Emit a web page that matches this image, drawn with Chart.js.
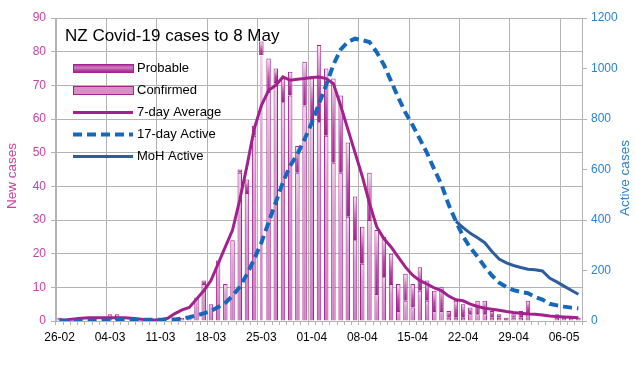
<!DOCTYPE html>
<html>
<head>
<meta charset="utf-8">
<title>NZ Covid-19 cases to 8 May</title>
<script src="https://cdn.jsdelivr.net/npm/chart.js@4.4.0/dist/chart.umd.min.js"></script>
<style>
  html, body { margin: 0; padding: 0; background: #fff; }
</style>
</head>
<body>
<canvas id="my-chart" width="635" height="392"></canvas>
<script>
const dates = [
  "26-02", "27-02", "28-02", "29-02",
  "01-03", "02-03", "03-03", "04-03", "05-03", "06-03", "07-03", "08-03", "09-03", "10-03",
  "11-03", "12-03", "13-03", "14-03", "15-03", "16-03", "17-03", "18-03", "19-03", "20-03",
  "21-03", "22-03", "23-03", "24-03", "25-03", "26-03", "27-03", "28-03", "29-03", "30-03", "31-03",
  "01-04", "02-04", "03-04", "04-04", "05-04", "06-04", "07-04", "08-04", "09-04", "10-04",
  "11-04", "12-04", "13-04", "14-04", "15-04", "16-04", "17-04", "18-04", "19-04", "20-04",
  "21-04", "22-04", "23-04", "24-04", "25-04", "26-04", "27-04", "28-04", "29-04", "30-04",
  "01-05", "02-05", "03-05", "04-05", "05-05", "06-05", "07-05", "08-05"
];
const tickDates = ["26-02", "04-03", "11-03", "18-03", "25-03", "01-04", "08-04", "15-04", "22-04", "29-04", "06-05"];

const confirmed = [
  1, 0, 0, 0, 0, 0, 0, 2, 2, 0,
  0, 0, 0, 0, 0, 0, 0, 1, 1, 7,
  11, 5, 18, 11, 24, 44, 38, 55, 79, 68,
  71, 65, 67, 44, 64, 59, 59, 55, 47, 44,
  31, 24, 17, 30, 8, 13, 11, 3, 6, 4,
  9, 6, 3, 3, 1, 1, 1, 2, 2, 2,
  1, 1, 0, 1, 1, 2, 0, 0, 0, 1,
  1, 1, 1
];
const probable = [
  0, 0, 0, 0, 0, 0, 0, 0, 0, 0,
  0, 0, 0, 0, 0, 0, 0, 0, 0, 0,
  1, 0, 0, 0, 0, 1, 4, 3, 4, 10,
  4, 7, 7, 8, 13, 13, 23, 20, 25, 23,
  22, 13, 11, 14, 19, 12, 9, 8, 8, 7,
  7, 6, 6, 7, 2, 5, 4, 2, 4, 4,
  2, 1, 1, 1, 2, 4, 0, 0, 0, 1,
  0, 0, 0
];
const sevenDayAvg = [
  0.3, 0.4, 0.6, 0.8, 1, 1, 1, 1, 1, 1,
  0.8, 0.6, 0.4, 0.3, 0.4, 0.8, 2.2, 3.3, 4, 6.5,
  9, 12, 17, 22, 27, 36, 46, 57, 64, 68.5,
  70, 72.5, 71.5, 71.8, 72, 72.3, 72.5, 72, 70.5, 64,
  57, 50, 43, 35, 28, 24.5, 22, 19, 16, 13.6,
  12, 11, 9.8, 9, 7.4, 6.3, 6, 5, 4.3, 3.8,
  3.5, 3.2, 2.8, 2.5, 2.3, 2.1, 2, 1.8, 1.5, 1.3,
  1.2, 1.1, 1
];
const active17 = [
  1, 1, 1, 1, 1, 1, 1, 3, 5, 5,
  5, 5, 5, 5, 5, 5, 6, 10, 15, 22,
  30, 40, 55, 72, 100, 135, 185, 245, 310, 390,
  470, 550, 615, 660, 720, 785, 860, 935, 1015, 1075,
  1105, 1118, 1112, 1105, 1065, 1015, 950, 885, 825, 775,
  720, 665, 600, 540, 460, 395, 335, 290, 255, 215,
  180, 152, 135, 122, 115, 110, 95, 85, 68, 62,
  57, 53, 50
];
const mohActive = Array(55).fill(null).concat([
  395, 370, 347, 330, 310, 275, 245, 230, 220, 212,
  205, 203, 198, 170, 155, 138, 122, 106
]);

const legendNames = ["Probable", "Confirmed", "7-day Average", "17-day Active", "MoH Active"];
const chartTitle = "NZ Covid-19 cases to 8 May";

const font = "'Liberation Sans', Arial, sans-serif";
const grid = "#b3b3b3";
const pink = "#c7439f";
const blue = "#2b82cf";
const barEdge = "#a3228d";
const avgColour = "#a3218e";
const dashColour = "#1569bd";
const mohColour = "#2d5e9b";

// vertical gradient over each bar segment, bottom -> top
function barFill(stops, base, own, solid) {
  return function (context) {
    const chart = context.chart;
    const y = chart.scales.y;
    if (context.type !== "data" || !chart.chartArea || !y) return solid;
    const i = context.dataIndex;
    const b = base ? base[i] : 0;
    const y0 = y.getPixelForValue(b);
    const y1 = y.getPixelForValue(b + own[i]);
    if (Math.abs(y0 - y1) < 1) return solid;
    const g = chart.ctx.createLinearGradient(0, y0, 0, y1);
    stops.forEach(function (s) { g.addColorStop(s[0], s[1]); });
    return g;
  };
}

const decorations = {
  id: "decorations",
  afterDraw(chart) {
    const c = chart.ctx;
    c.save();
    c.textBaseline = "middle";
    c.textAlign = "left";
    c.fillStyle = "#000";
    c.font = "17px " + font;
    c.fillText(chartTitle, 65, 36);

    // legend
    c.font = "13px " + font;
    let g = c.createLinearGradient(0, 64, 0, 72);
    g.addColorStop(0, "#a3228d");
    g.addColorStop(0.45, "#cf7ec0");
    g.addColorStop(1, "#a3228d");
    c.fillStyle = g;
    c.fillRect(73, 64, 60, 8);
    c.strokeStyle = barEdge;
    c.lineWidth = 1;
    c.strokeRect(73.5, 64.5, 60, 8);
    c.fillStyle = "#d690c8";
    c.fillRect(73, 86, 60, 8);
    c.strokeRect(73.5, 86.5, 60, 8);

    c.lineWidth = 3;
    c.strokeStyle = avgColour;
    c.beginPath(); c.moveTo(73, 112.5); c.lineTo(133, 112.5); c.stroke();
    c.lineWidth = 4;
    c.strokeStyle = dashColour;
    c.setLineDash([9, 5]);
    c.beginPath(); c.moveTo(73, 134.5); c.lineTo(133, 134.5); c.stroke();
    c.setLineDash([]);
    c.lineWidth = 3;
    c.strokeStyle = mohColour;
    c.beginPath(); c.moveTo(73, 156.5); c.lineTo(133, 156.5); c.stroke();

    c.fillStyle = "#000";
    legendNames.forEach(function (name, k) {
      c.fillText(name, 137, 68 + k * 22);
    });

    // axis titles
    c.font = "13.5px " + font;
    c.textAlign = "center";
    c.fillStyle = pink;
    c.translate(12, 176);
    c.rotate(-Math.PI / 2);
    c.fillText("New cases", 0, 0);
    c.setTransform(1, 0, 0, 1, 0, 0);
    c.fillStyle = blue;
    c.translate(625, 178);
    c.rotate(-Math.PI / 2);
    c.fillText("Active cases", 0, 0);
    c.restore();
  }
};

const ctx = document.getElementById("my-chart").getContext("2d");
const chart = new Chart(ctx, {
  data: {
    labels: dates,
    datasets: [
      {
        type: "line",
        label: "17-day Active",
        data: active17,
        yAxisID: "y1",
        borderColor: dashColour,
        borderWidth: 4,
        borderDash: [9, 5],
        pointRadius: 0,
        fill: false,
        order: 0,
      },
      {
        type: "line",
        label: "MoH Active",
        data: mohActive,
        yAxisID: "y1",
        borderColor: mohColour,
        borderWidth: 3,
        pointRadius: 0,
        fill: false,
        order: 0,
      },
      {
        type: "line",
        label: "7-day Average",
        data: sevenDayAvg,
        yAxisID: "y",
        stack: "avg",
        borderColor: avgColour,
        borderWidth: 3,
        pointRadius: 0,
        fill: false,
        order: 1,
      },
      {
        type: "bar",
        label: "Confirmed",
        data: confirmed,
        yAxisID: "y",
        stack: "cases",
        backgroundColor: barFill([[0, "#cf7fc0"], [0.7, "#dc9fd2"], [1, "#efcfe9"]], null, confirmed, "#d690c8"),
        borderColor: function (context) {
          return context.dataIndex === 28 ? "rgba(0,0,0,0)" : barEdge;
        },
        borderWidth: 1,
        barPercentage: 0.62,
        categoryPercentage: 1,
        order: 2,
      },
      {
        type: "bar",
        label: "Probable",
        data: probable,
        yAxisID: "y",
        stack: "cases",
        backgroundColor: barFill([[0, "#a3228d"], [0.4, "#b84ba5"], [1, "#f8e6f5"]], confirmed, probable, "#a3228d"),
        borderColor: barEdge,
        borderWidth: 1,
        barPercentage: 0.62,
        categoryPercentage: 1,
        order: 2,
      },
    ],
  },
  options: {
    responsive: false,
    animation: false,
    layout: { padding: { top: 18, left: 0, right: 0, bottom: 0 } },
    plugins: {
      legend: { display: false },
      title: { display: false },
      tooltip: { enabled: false },
    },
    scales: {
      x: {
        type: "category",
        offset: true,
        grid: {
          offset: true,
          color: function (context) {
            return context.index % 7 === 0 ? grid : "rgba(0,0,0,0)";
          },
          tickColor: grid,
          tickLength: 4,
        },
        border: { color: grid },
        ticks: {
          autoSkip: false,
          maxRotation: 0,
          minRotation: 0,
          color: "#000",
          padding: 5,
          font: { family: font, size: 12 },
          callback: function (value, index) {
            return tickDates.includes(dates[index]) ? dates[index] : "";
          },
        },
        afterFit: function (scale) { scale.height = 71; },
      },
      y: {
        position: "left",
        stacked: true,
        min: 0,
        max: 90,
        ticks: { stepSize: 10, color: pink, padding: 5, font: { family: font, size: 12 } },
        grid: { color: grid, tickColor: grid, tickLength: 5 },
        border: { color: grid },
        afterFit: function (scale) { scale.width = 56; },
      },
      y1: {
        position: "right",
        min: 0,
        max: 1200,
        ticks: {
          stepSize: 200,
          color: blue,
          padding: 4,
          font: { family: font, size: 12 },
          callback: function (value) { return String(value); },
        },
        grid: { drawOnChartArea: false, tickColor: grid, tickLength: 5 },
        border: { color: grid },
        afterFit: function (scale) { scale.width = 53; },
      },
    },
  },
  plugins: [decorations],
});
</script>
</body>
</html>
